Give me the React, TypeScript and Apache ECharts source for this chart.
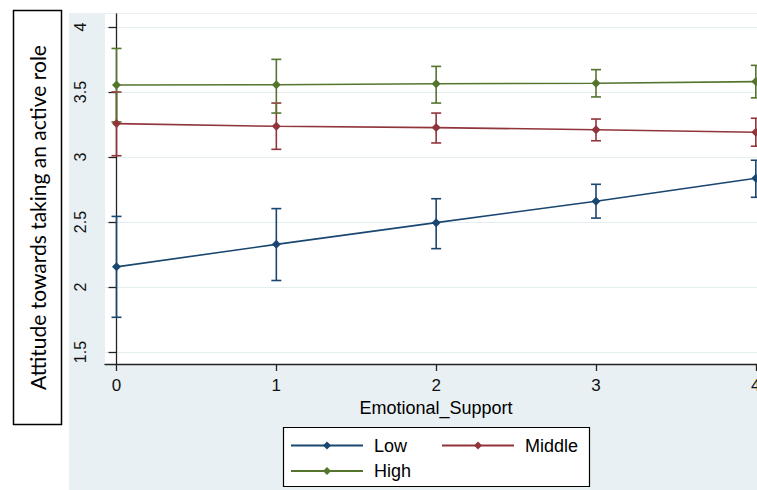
import React, { useEffect, useRef } from "react";
import * as echarts from "echarts";

const xValues = [0, 1, 2, 3, 4];
const lowMean = [2.155, 2.328, 2.495, 2.659, 2.836];
const lowLo = [1.767, 2.05, 2.295, 2.53, 2.69];
const lowHi = [2.543, 2.603, 2.679, 2.79, 2.975];
const midMean = [3.257, 3.236, 3.226, 3.21, 3.19];
const midLo = [3.01, 3.059, 3.108, 3.125, 3.083];
const midHi = [3.5, 3.415, 3.338, 3.292, 3.298];
const highMean = [3.554, 3.556, 3.564, 3.567, 3.58];
const highLo = [3.27, 3.338, 3.415, 3.462, 3.455];
const highHi = [3.835, 3.751, 3.697, 3.672, 3.705];
const yTicks = [1.5, 2, 2.5, 3, 3.5, 4];
const xTicks = [0, 1, 2, 3, 4];
const seriesNames = ["Low", "Middle", "High"];
const xTitle = "Emotional_Support";
const yTitle = "Attitude towards taking an active role";

const COLORS = ["#1a476f", "#90353b", "#55752f"];
const FONT = "Liberation Sans, Arial, sans-serif";

function lineSeries(name: string, mean: number[], color: string) {
  return {
    name,
    type: "line",
    data: xValues.map((x, i) => [x, mean[i]]),
    symbol: "diamond",
    symbolSize: 9,
    color,
    itemStyle: { color },
    lineStyle: { color, width: 1.6 },
    z: 4,
  };
}

function ciSeries(name: string, lo: number[], hi: number[], color: string) {
  return {
    name: name + " CI",
    type: "custom",
    data: xValues.map((x, i) => [x, lo[i], hi[i]]),
    encode: { x: 0, y: [1, 2] },
    z: 3,
    renderItem: (params: any, api: any) => {
      const x = api.value(0);
      const pLo = api.coord([x, api.value(1)]);
      const pHi = api.coord([x, api.value(2)]);
      const w = 5;
      const style = { stroke: color, lineWidth: 1.6 };
      return {
        type: "group",
        children: [
          { type: "line", shape: { x1: pLo[0], y1: pLo[1], x2: pHi[0], y2: pHi[1] }, style },
          { type: "line", shape: { x1: pLo[0] - w, y1: pLo[1], x2: pLo[0] + w, y2: pLo[1] }, style },
          { type: "line", shape: { x1: pHi[0] - w, y1: pHi[1], x2: pHi[0] + w, y2: pHi[1] }, style },
        ],
      };
    },
  };
}

export default function App() {
  const ref = useRef<HTMLDivElement>(null);
  useEffect(() => {
    if (!ref.current) return;
    const chart = echarts.init(ref.current, undefined, { renderer: "svg" });
    const legendCommon = {
      itemWidth: 72,
      itemHeight: 10,
      padding: 0,
      selectedMode: false,
      z: 10,
      textStyle: { fontSize: 18, fontFamily: FONT, color: "#000", padding: [0, 0, 0, 6] },
    };
    chart.setOption({
      animation: false,
      backgroundColor: "#ffffff",
      graphic: [
        {
          type: "rect",
          z: -10,
          shape: { x: 69, y: 13, width: 700, height: 480 },
          style: { fill: "#e8f0f3" },
        },
        {
          type: "rect",
          z: 1,
          shape: { x: 13.5, y: 10.5, width: 48, height: 414 },
          style: { fill: "#ffffff", stroke: "#000", lineWidth: 1.5 },
        },
        {
          type: "text",
          z: 2,
          x: 37.5,
          y: 217.5,
          rotation: Math.PI / 2,
          style: {
            text: yTitle,
            fontSize: 21,
            fontFamily: "Lato, sans-serif",
            fill: "#000",
            align: "center",
            verticalAlign: "middle",
          },
        },
        {
          type: "rect",
          z: 1,
          shape: { x: 283.5, y: 427.5, width: 306, height: 59 },
          style: { fill: "#ffffff", stroke: "#000", lineWidth: 1.2 },
        },
      ],
      grid: {
        left: 105,
        top: 14,
        width: 662,
        bottom: 126,
        show: true,
        backgroundColor: "#ffffff",
        borderWidth: 0,
        containLabel: false,
        outerBoundsMode: "none",
      },
      legend: [
        { ...legendCommon, data: [seriesNames[0]], left: 290, top: 436.5 },
        { ...legendCommon, data: [seriesNames[1]], left: 441, top: 436.5 },
        { ...legendCommon, data: [seriesNames[2]], left: 290, top: 462 },
      ],
      xAxis: {
        type: "value",
        min: -0.072,
        max: 4.07,
        name: xTitle,
        nameLocation: "middle",
        nameGap: 33,
        nameTextStyle: { fontSize: 18, fontFamily: FONT, color: "#000" },
        axisLine: { show: true, lineStyle: { color: "#222", width: 1.3 } },
        axisTick: { show: true, length: 7, customValues: xTicks, lineStyle: { color: "#222", width: 1.3 } },
        axisLabel: { customValues: xTicks, fontSize: 17, fontFamily: FONT, color: "#111", margin: 13 },
        splitLine: { show: false },
      },
      yAxis: {
        type: "value",
        min: 1.4077,
        max: 4.1,
        axisLine: { show: true, lineStyle: { color: "#222", width: 1.3 } },
        axisTick: { show: true, length: 8, customValues: yTicks, lineStyle: { color: "#222", width: 1.3 } },
        axisLabel: { customValues: yTicks, rotate: 90, fontSize: 16, fontFamily: FONT, color: "#111", margin: 17 },
        splitLine: { show: true, lineStyle: { color: "#e4edf0", width: 1.2 } },
      },
      series: [
        ciSeries(seriesNames[0], lowLo, lowHi, COLORS[0]),
        ciSeries(seriesNames[1], midLo, midHi, COLORS[1]),
        ciSeries(seriesNames[2], highLo, highHi, COLORS[2]),
        lineSeries(seriesNames[0], lowMean, COLORS[0]),
        lineSeries(seriesNames[1], midMean, COLORS[1]),
        lineSeries(seriesNames[2], highMean, COLORS[2]),
      ],
    });
    return () => chart.dispose();
  }, []);
  return (
    <div
      ref={ref}
      style={{ position: "absolute", left: 0, top: 0, width: 757, height: 490 }}
    />
  );
}
